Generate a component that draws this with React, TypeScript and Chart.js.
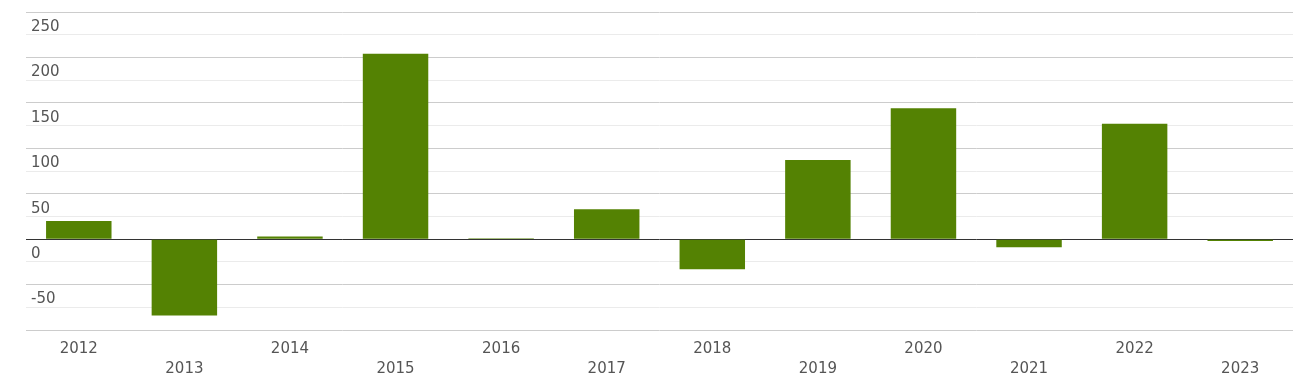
import React, { useEffect, useRef } from "react";
import { Chart, registerables } from "chart.js";

Chart.register(...registerables);

const years = ["2012", "2013", "2014", "2015", "2016", "2017", "2018", "2019", "2020", "2021", "2022", "2023"];
const values = [20, -84, 3, 204, 1, 33, -33, 87, 144, -9, 127, -2];
const yTickLabels = [250, 200, 150, 100, 50, 0, -50];

const BAR_COLOR = "#548203";
const TEXT_COLOR = "#555555";
const FONT = "DejaVu Sans";

const yLabelPlugin = {
  id: "yLabelPlugin",
  afterDraw(chart: any) {
    const ctx = chart.ctx;
    const y = chart.scales.y;
    ctx.save();
    ctx.font = `15px "${FONT}"`;
    ctx.fillStyle = TEXT_COLOR;
    ctx.textAlign = "left";
    ctx.textBaseline = "middle";
    for (const v of yTickLabels) {
      const py = y.getPixelForValue(v);
      ctx.fillText(String(v), chart.chartArea.left + 5, py + 15);
    }
    ctx.restore();
  },
};

export default function App() {
  const ref = useRef<HTMLCanvasElement>(null);
  useEffect(() => {
    if (!ref.current) return;
    const chart = new Chart(ref.current, {
      type: "bar",
      data: {
        labels: years,
        datasets: [
          {
            data: values,
            backgroundColor: BAR_COLOR,
            borderWidth: 0,
            barPercentage: 0.62,
            categoryPercentage: 1,
          },
        ],
      },
      options: {
        animation: false,
        responsive: false,
        maintainAspectRatio: false,
        layout: { padding: { left: 26, top: 12, right: 0, bottom: 0 } },
        plugins: { legend: { display: false }, tooltip: { enabled: false } },
        scales: {
          x: {
            grid: { display: false },
            border: { display: false },
            ticks: {
              color: TEXT_COLOR,
              font: { family: FONT, size: 15, lineHeight: 1.333 },
              padding: 1,
              maxRotation: 0,
              autoSkip: false,
              callback: (_v: any, i: number) => (i % 2 === 0 ? [years[i], ""] : ["", years[i]]),
            },
            afterFit: (s: any) => {
              s.height = 54;
            },
          },
          y: {
            min: -100,
            max: 250,
            ticks: { display: false, stepSize: 25 },
            border: { display: false },
            grid: {
              drawTicks: false,
              color: (c: any) => {
                const v = c.tick?.value;
                if (v === 0) return "#333333";
                return v % 50 === 0 ? "#cccccc" : "#ebebeb";
              },
              lineWidth: 1,
            },
            afterFit: (s: any) => {
              s.width = 0;
            },
          },
        },
      },
      plugins: [yLabelPlugin],
    });
    return () => chart.destroy();
  }, []);
  return (
    <div style={{ position: "absolute", left: 0, top: 0, width: 1293, height: 384 }}>
      <canvas ref={ref} width={1293} height={384} style={{ display: "block" }} />
    </div>
  );
}
